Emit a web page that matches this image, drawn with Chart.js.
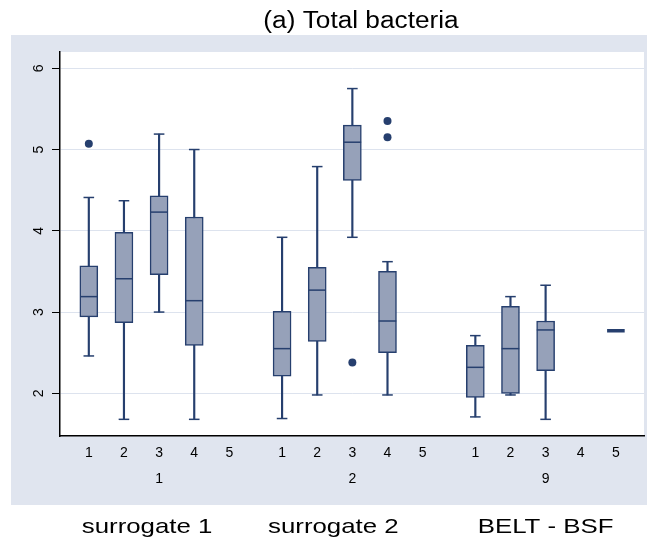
<!DOCTYPE html>
<html>
<head>
<meta charset="utf-8">
<script src="https://cdn.jsdelivr.net/npm/chart.js@4/dist/chart.umd.min.js"></script>
<style>
  html, body { margin: 0; padding: 0; background: #fff; }
  canvas { display: block; }
</style>
</head>
<body>
<canvas id="boxChart" width="647" height="539"></canvas>
<script>
// groups along the x axis and the five boxes inside each group
const groupNames = ['1', '2', '9'];
const groupCaptions = ['surrogate 1', 'surrogate 2', 'BELT - BSF'];
const subLabels = ['1', '2', '3', '4', '5'];
const yTicks = [2, 3, 4, 5, 6];

// box statistics, five entries per group (null = no observations)
const lowerWhisker = [2.46, 1.68, 3.00, 1.68, null, 1.69, 1.98, 3.92, 1.98, null, 1.71, 1.98, 1.68, null, 2.77];
const q1           = [2.94, 2.87, 3.46, 2.59, null, 2.21, 2.64, 4.62, 2.50, null, 1.95, 2.00, 2.28, null, 2.77];
const median       = [3.19, 3.41, 4.23, 3.14, null, 2.55, 3.27, 5.09, 2.89, null, 2.32, 2.55, 2.78, null, 2.77];
const q3           = [3.57, 3.98, 4.43, 4.17, null, 3.01, 3.55, 5.30, 3.50, null, 2.59, 3.07, 2.89, null, 2.77];
const upperWhisker = [4.41, 4.37, 5.19, 5.00, null, 3.92, 4.79, 5.75, 3.62, null, 2.71, 3.19, 3.33, null, 2.77];
const outliers     = [[5.07], [], [], [], [], [], [], [2.38], [5.35, 5.15], [], [], [], [], [], []];

const NAVY = '#263f6e';
const BOX_FILL = '#96a1b9';
const PANEL = '#e0e5ef';

// x slot of each box: 5 slots per group, 1.5 slot gap between groups
const slotX = subLabels.length * groupNames.length;
const xPos = [];
for (let i = 0; i < slotX; i++) {
  const g = Math.floor(i / subLabels.length);
  xPos.push(1 + g * 5.5 + (i % subLabels.length));
}

const whiskerData = [], boxData = [], medianData = [], capData = [], outlierData = [];
xPos.forEach((x, i) => {
  if (median[i] === null) return;
  whiskerData.push({ x: x, y: [lowerWhisker[i], upperWhisker[i]] });
  boxData.push({ x: x, y: [q1[i], q3[i]] });
  medianData.push({ x: x, y: median[i], flat: q1[i] === q3[i] });
  capData.push({ x: x, y: lowerWhisker[i] }, { x: x, y: upperWhisker[i] });
  outliers[i].forEach(v => outlierData.push({ x: x, y: v }));
});

// grey panel, white plot region, title and group captions
const stataFrame = {
  id: 'stataFrame',
  beforeDraw(chart) {
    const { ctx, chartArea: a } = chart;
    ctx.save();
    ctx.fillStyle = '#fff';
    ctx.fillRect(0, 0, chart.width, chart.height);
    ctx.fillStyle = PANEL;
    ctx.fillRect(11, 35, chart.width - 11, 470);
    ctx.fillStyle = '#fff';
    ctx.fillRect(a.left, a.top, a.right - a.left, a.bottom - a.top);
    ctx.restore();
  },
  afterDraw(chart) {
    const { ctx } = chart;
    const xs = chart.scales.x;
    const wide = (text, x, y, size, sx) => {
      ctx.save();
      ctx.translate(x, y);
      ctx.scale(sx, 1);
      ctx.font = size + 'px "Liberation Sans", Arial, sans-serif';
      ctx.fillStyle = '#000';
      ctx.textAlign = 'center';
      ctx.textBaseline = 'alphabetic';
      ctx.fillText(text, 0, 0);
      ctx.restore();
    };
    wide('(a) Total bacteria', 361, 28, 23, 1.14);
    const capX = [xs.getPixelForValue(xPos[2]) - 12, xs.getPixelForValue(xPos[7]) - 19, xs.getPixelForValue(xPos[12])];
    groupCaptions.forEach((t, g) => wide(t, capX[g], 533, 21, 1.23));
  }
};

new Chart(document.getElementById('boxChart'), {
  type: 'bar',
  data: {
    datasets: [
      { type: 'scatter', data: outlierData, pointStyle: 'circle', radius: 4, backgroundColor: NAVY, borderWidth: 0, order: 0 },
      {
        type: 'scatter', data: medianData, pointStyle: 'line', radius: 8.8, borderColor: NAVY, order: 1,
        borderWidth: c => (c.raw && c.raw.flat ? 3.5 : 1.5)
      },
      { type: 'scatter', data: capData, pointStyle: 'line', radius: 5.3, borderColor: NAVY, borderWidth: 1.5, order: 2 },
      { type: 'bar', data: boxData, grouped: false, barThickness: 18, backgroundColor: BOX_FILL, borderColor: NAVY, borderWidth: 1.5, borderSkipped: false, order: 3 },
      { type: 'bar', data: whiskerData, grouped: false, barThickness: 1.5, backgroundColor: NAVY, borderWidth: 0, order: 4 }
    ]
  },
  options: {
    responsive: false,
    animation: false,
    events: [],
    layout: { autoPadding: false, padding: { top: 52, left: 0, right: 3, bottom: 33 } },
    plugins: { legend: { display: false }, tooltip: { enabled: false }, title: { display: false } },
    scales: {
      x: {
        type: 'linear',
        offset: false,
        min: 0.18,
        max: 16.8,
        afterFit(scale) { scale.height = 70; },
        afterBuildTicks(scale) { scale.ticks = xPos.map(v => ({ value: v })); },
        grid: { display: false, drawTicks: false },
        border: { display: true, color: '#000', width: 1.5 },
        ticks: {
          autoSkip: false,
          maxRotation: 0,
          padding: 4,
          color: '#000',
          font: { family: '"Liberation Sans", Arial, sans-serif', size: 14, lineHeight: 1.86 },
          callback(value, index) {
            const sub = subLabels[index % subLabels.length];
            if (index % subLabels.length === 2) return [sub, groupNames[Math.floor(index / subLabels.length)]];
            return sub;
          }
        }
      },
      y: {
        min: 1.475,
        max: 6.2,
        afterFit(scale) { scale.width = 60; },
        afterBuildTicks(scale) { scale.ticks = yTicks.map(v => ({ value: v })); },
        grid: { color: '#dde3ee', lineWidth: 1, tickColor: '#000', tickLength: 8 },
        border: { display: true, color: '#000', width: 1.5 },
        ticks: {
          minRotation: 90,
          maxRotation: 90,
          crossAlign: 'center',
          padding: 9,
          color: '#000',
          font: { family: '"Liberation Sans", Arial, sans-serif', size: 14 }
        }
      }
    }
  },
  plugins: [stataFrame]
});
</script>
</body>
</html>
